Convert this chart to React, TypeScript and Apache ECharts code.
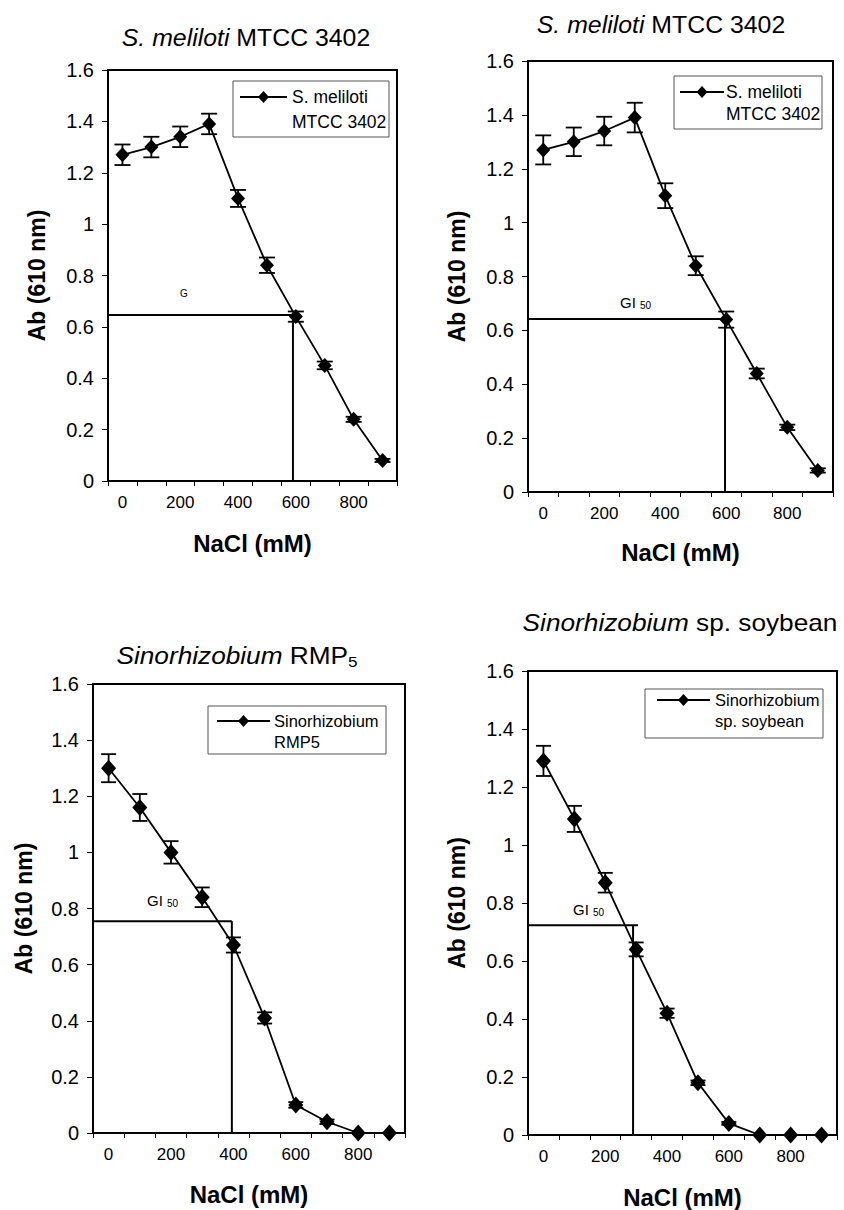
import React, { useEffect, useRef } from "react";
import * as echarts from "echarts";

// ---- data ----
const CATEGORIES = ["0", "100", "200", "300", "400", "500", "600", "700", "800", "900"];
const NACL = [0, 100, 200, 300, 400, 500, 600, 700, 800, 900];

const P1_AB = [1.27, 1.3, 1.34, 1.39, 1.1, 0.84, 0.64, 0.45, 0.24, 0.08];
const P1_ERR = [0.04, 0.04, 0.04, 0.04, 0.033, 0.03, 0.02, 0.015, 0.01, 0.006];
const P2_AB = [1.27, 1.3, 1.34, 1.39, 1.1, 0.84, 0.64, 0.44, 0.24, 0.08];
const P2_ERR = [0.054, 0.053, 0.053, 0.055, 0.046, 0.035, 0.03, 0.018, 0.01, 0.008];
const P3_AB = [1.3, 1.16, 1.0, 0.84, 0.67, 0.41, 0.1, 0.04, 0, 0];
const P3_ERR = [0.05, 0.048, 0.04, 0.035, 0.027, 0.02, 0.01, 0.008, 0, 0];
const P4_AB = [1.29, 1.09, 0.87, 0.64, 0.42, 0.18, 0.04, 0, 0, 0];
const P4_ERR = [0.052, 0.045, 0.034, 0.024, 0.016, 0.008, 0.005, 0, 0, 0];

// GI50 guide lines: [level, vertical x, horizontal end x]
const P1_GI = [0.646, 590, 590];
const P2_GI = [0.642, 596, 596];
const P3_GI = [0.755, 395, 395];
const P4_GI = [0.723, 290, 306];

const TITLES = [
  "{i|S. meliloti} MTCC 3402",
  "{i|S. meliloti} MTCC 3402",
  "{i|Sinorhizobium} RMP{s|5}",
  "{i|Sinorhizobium} sp. soybean",
];
const LEGENDS = [
  ["S. meliloti", "MTCC 3402"],
  ["S. meliloti", "MTCC 3402"],
  ["Sinorhizobium", "RMP5"],
  ["Sinorhizobium", "sp. soybean"],
];
const GI_LABELS = [
  ["G", ""],
  ["GI", "50"],
  ["GI", "50"],
  ["GI", "50"],
];
const X_NAME = "NaCl (mM)";
const Y_NAME = "Ab (610 nm)";

// ---- layout ----
const FONT = "Liberation Sans, Arial, Helvetica, sans-serif";
const PANELS = [
  {
    ab: P1_AB, err: P1_ERR, gi: P1_GI,
    l: 108, t: 70, r: 397, b: 481, xGap: 50, yGap: 60,
    title: [246, 38, 1.08], leg: [233, 81, 156, 56, 240, 287, 97, 292, 122, 17.5],
    giLab: [180, 293, 10], sym: [14, 15], cap: 16,
  },
  {
    ab: P2_AB, err: P2_ERR, gi: P2_GI,
    l: 528, t: 61, r: 833, b: 492, xGap: 48, yGap: 60,
    title: [661, 25, 1.08], leg: [674, 76, 148, 53, 680, 724, 92, 726, 114, 17.5],
    giLab: [620, 302, 15], sym: [14, 15], cap: 16,
  },
  {
    ab: P3_AB, err: P3_ERR, gi: P3_GI,
    l: 93, t: 684, r: 405, b: 1133, xGap: 49, yGap: 58,
    title: [237, 656, 1.14], leg: [208, 706, 178, 48, 217, 270, 721, 274, 742, 16.5],
    giLab: [147, 900, 15], sym: [15, 17], cap: 15,
  },
  {
    ab: P4_AB, err: P4_ERR, gi: P4_GI,
    l: 528, t: 671, r: 837, b: 1136, xGap: 50, yGap: 60,
    title: [680, 623, 1.14], leg: [645, 689, 178, 49, 657, 710, 700, 715, 721, 16.5],
    giLab: [573, 909, 15], sym: [15, 17], cap: 15,
  },
];

function buildOption() {
  const grid: any[] = [];
  const xAxis: any[] = [];
  const yAxis: any[] = [];
  const series: any[] = [];
  const graphic: any[] = [];

  PANELS.forEach((p, i) => {
    grid.push({
      left: p.l, top: p.t, width: p.r - p.l, height: p.b - p.t,
      show: true, borderColor: "#000", borderWidth: 2,
    });
    xAxis.push({
      type: "category", gridIndex: i, data: CATEGORIES, boundaryGap: true,
      axisLine: { onZero: false, lineStyle: { color: "#000", width: 2 } },
      axisTick: { show: true, interval: 0, alignWithLabel: false, length: 5, lineStyle: { color: "#000", width: 1 } },
      axisLabel: { interval: 1, color: "#000", fontSize: 17, margin: 13, fontFamily: FONT },
      splitLine: { show: false },
      name: X_NAME, nameLocation: "middle", nameGap: p.xGap,
      nameTextStyle: { fontSize: 24, fontWeight: "bold", color: "#000", fontFamily: FONT },
    });
    xAxis.push({ type: "value", gridIndex: i, min: -50, max: 950, show: false });
    yAxis.push({
      type: "value", gridIndex: i, min: 0, max: 1.6, interval: 0.2,
      axisLine: { show: true, onZero: false, lineStyle: { color: "#000", width: 2 } },
      axisTick: { show: true, length: 6, lineStyle: { color: "#000", width: 1 } },
      axisLabel: {
        color: "#000", fontSize: 20, margin: 14, fontFamily: FONT,
        formatter: (v: number) => String(Math.round(v * 10) / 10),
      },
      splitLine: { show: false },
      name: Y_NAME, nameLocation: "middle", nameGap: p.yGap, nameRotate: 90,
      nameTextStyle: { fontSize: 23, fontWeight: "bold", color: "#000", fontFamily: FONT },
    });

    const [lvl, vx, hx] = p.gi;
    series.push({
      type: "line", xAxisIndex: 2 * i + 1, yAxisIndex: i, symbol: "none", silent: true,
      data: [[-50, lvl], [hx, lvl]], lineStyle: { color: "#000", width: 2 }, z: 1,
    });
    series.push({
      type: "line", xAxisIndex: 2 * i + 1, yAxisIndex: i, symbol: "none", silent: true,
      data: [[vx, lvl], [vx, 0]], lineStyle: { color: "#000", width: 2 }, z: 1,
    });
    const cap = p.cap;
    series.push({
      type: "custom", xAxisIndex: 2 * i + 1, yAxisIndex: i, z: 3,
      data: NACL.map((x, k) => [x, p.ab[k], p.err[k]]),
      encode: { x: 0, y: 1 },
      renderItem: (params: any, api: any) => {
        const x = api.value(0), y = api.value(1), e = api.value(2);
        if (!e) return { type: "group", children: [] };
        const tp = api.coord([x, y + e]);
        const bt = api.coord([x, y - e]);
        const hw = cap / 2;
        const st = { stroke: "#000", lineWidth: 1.8 };
        return {
          type: "group",
          children: [
            { type: "line", shape: { x1: tp[0], y1: tp[1], x2: bt[0], y2: bt[1] }, style: st },
            { type: "line", shape: { x1: tp[0] - hw, y1: tp[1], x2: tp[0] + hw, y2: tp[1] }, style: st },
            { type: "line", shape: { x1: bt[0] - hw, y1: bt[1], x2: bt[0] + hw, y2: bt[1] }, style: st },
          ],
        };
      },
    });
    series.push({
      type: "line", xAxisIndex: 2 * i + 1, yAxisIndex: i, z: 4,
      name: LEGENDS[i].join(" "),
      data: NACL.map((x, k) => [x, p.ab[k]]),
      symbol: "diamond", symbolSize: p.sym,
      itemStyle: { color: "#000" },
      lineStyle: { color: "#000", width: 1.8 },
    });

    // title
    const [tx, ty, sx] = p.title;
    graphic.push({
      type: "text", x: tx, y: ty, scaleX: sx, z: 10,
      style: {
        text: TITLES[i], x: 0, y: 0, align: "center", verticalAlign: "middle",
        fontSize: 23, fontFamily: FONT, fill: "#000",
        rich: {
          i: { fontStyle: "italic", fontSize: 23, fontFamily: FONT, fill: "#000" },
          s: { fontSize: 15, fontFamily: FONT, fill: "#000", verticalAlign: "bottom", padding: [10, 0, 0, 0] },
        },
      },
    });

    // legend box
    const [lx, ly, lw, lh, l1, l2, lyc, ltx, ly2, lfs] = p.leg;
    graphic.push({
      type: "rect", z: 10, shape: { x: lx, y: ly, width: lw, height: lh },
      style: { fill: "#fff", stroke: "#555", lineWidth: 1 },
    });
    graphic.push({
      type: "line", z: 11, shape: { x1: l1, y1: lyc, x2: l2, y2: lyc },
      style: { stroke: "#000", lineWidth: 1.8 },
    });
    const dc = (l1 + l2) / 2;
    graphic.push({
      type: "polygon", z: 12,
      shape: { points: [[dc, lyc - 6], [dc + 5.5, lyc], [dc, lyc + 6], [dc - 5.5, lyc]] },
      style: { fill: "#000" },
    });
    graphic.push({
      type: "text", z: 12, x: ltx, y: lyc,
      style: { text: LEGENDS[i][0], x: 0, y: 0, align: "left", verticalAlign: "middle", fontSize: lfs, fontFamily: FONT, fill: "#000" },
    });
    graphic.push({
      type: "text", z: 12, x: ltx, y: ly2,
      style: { text: LEGENDS[i][1], x: 0, y: 0, align: "left", verticalAlign: "middle", fontSize: lfs, fontFamily: FONT, fill: "#000" },
    });

    // GI50 label
    const [gx, gy, gs] = p.giLab;
    graphic.push({
      type: "text", z: 12, x: gx, y: gy,
      style: { text: GI_LABELS[i][0], x: 0, y: 0, align: "left", verticalAlign: "middle", fontSize: gs, fontFamily: FONT, fill: "#000" },
    });
    if (GI_LABELS[i][1]) {
      graphic.push({
        type: "text", z: 12, x: gx + 20, y: gy + 3,
        style: { text: GI_LABELS[i][1], x: 0, y: 0, align: "left", verticalAlign: "middle", fontSize: 10, fontFamily: FONT, fill: "#000" },
      });
    }
  });

  return {
    animation: false,
    backgroundColor: "#fff",
    textStyle: { fontFamily: FONT },
    grid, xAxis, yAxis, series, graphic,
  };
}

export default function App() {
  const ref = useRef<HTMLDivElement>(null);
  useEffect(() => {
    if (!ref.current) return;
    const chart = echarts.init(ref.current, undefined, { renderer: "svg" });
    chart.setOption(buildOption() as any);
    return () => chart.dispose();
  }, []);
  return (
    <div
      ref={ref}
      style={{ position: "absolute", left: 0, top: 0, width: 844, height: 1210, background: "#fff" }}
    />
  );
}
